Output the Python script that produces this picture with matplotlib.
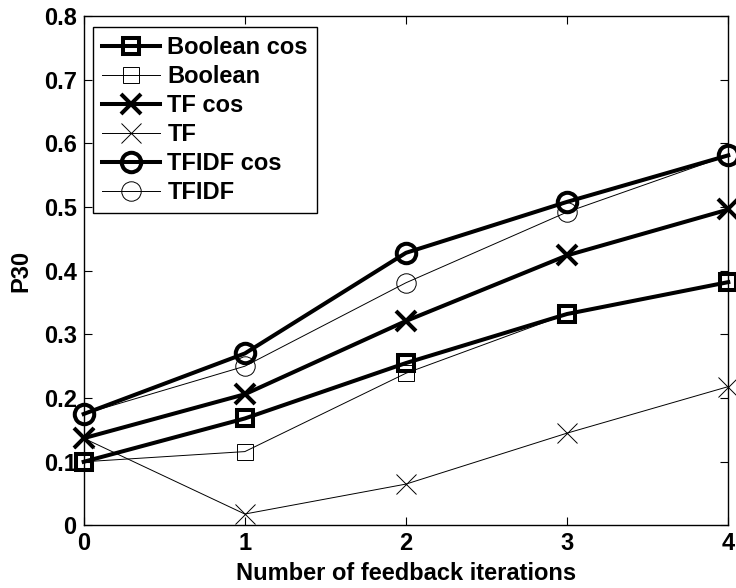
import matplotlib
matplotlib.use("Agg")
import matplotlib.pyplot as plt

plt.rcParams['font.family'] = ['Liberation Sans', 'DejaVu Sans']
plt.rcParams['font.weight'] = 'bold'

iterations = [0, 1, 2, 3, 4]
boolean_cos = [0.100, 0.168, 0.255, 0.332, 0.382]
boolean = [0.100, 0.116, 0.239, 0.332, 0.382]
tf_cos = [0.137, 0.206, 0.321, 0.424, 0.496]
tf = [0.137, 0.018, 0.065, 0.145, 0.218]
tfidf_cos = [0.175, 0.270, 0.428, 0.508, 0.581]
tfidf = [0.175, 0.250, 0.381, 0.492, 0.581]

series = [
    ("Boolean cos", boolean_cos, 's', True),
    ("Boolean", boolean, 's', False),
    ("TF cos", tf_cos, 'x', True),
    ("TF", tf, 'x', False),
    ("TFIDF cos", tfidf_cos, 'o', True),
    ("TFIDF", tfidf, 'o', False),
]

FS = 17

fig = plt.figure(figsize=(7.36, 5.88), dpi=100)
ax = fig.add_axes([0.1137, 0.1063, 0.8758, 0.8668])

for label, vals, mk, thick in series:
    lw = 2.9 if thick else 0.7
    ms = {'s': 12, 'x': 14, 'o': 14}[mk]
    mew = 2.9 if thick else 0.7
    ax.plot(iterations, vals, color='black', linewidth=lw, marker=mk,
            markersize=ms, markeredgewidth=mew, markerfacecolor='none',
            label=label, clip_on=False)

ax.set_xlim(0, 4)
ax.set_ylim(0, 0.8)
ax.set_xticks(iterations)
ax.set_yticks([0, 0.1, 0.2, 0.3, 0.4, 0.5, 0.6, 0.7, 0.8])
ax.set_yticklabels(['0', '0.1', '0.2', '0.3', '0.4', '0.5', '0.6', '0.7', '0.8'])
ax.tick_params(direction='in', length=6, width=0.8, top=True, right=True,
               labelsize=FS, pad=5)
for lab in ax.get_xticklabels() + ax.get_yticklabels():
    lab.set_fontweight('bold')
for sp in ax.spines.values():
    sp.set_linewidth(1.0)

ax.set_xlabel("Number of feedback iterations", fontsize=FS, fontweight='bold', labelpad=5)
ax.set_ylabel("P30", fontsize=FS, fontweight='bold', labelpad=8)

leg = ax.legend(loc='upper left', bbox_to_anchor=(0.0144, 0.978), fontsize=FS,
                frameon=True, fancybox=False, edgecolor='black', framealpha=1,
                borderaxespad=0, handlelength=2.45, handletextpad=0.3,
                labelspacing=0.25, borderpad=0.4)
leg.get_frame().set_linewidth(1.0)
for t in leg.get_texts():
    t.set_fontweight('bold')

fig.savefig("out.png", dpi=100)
